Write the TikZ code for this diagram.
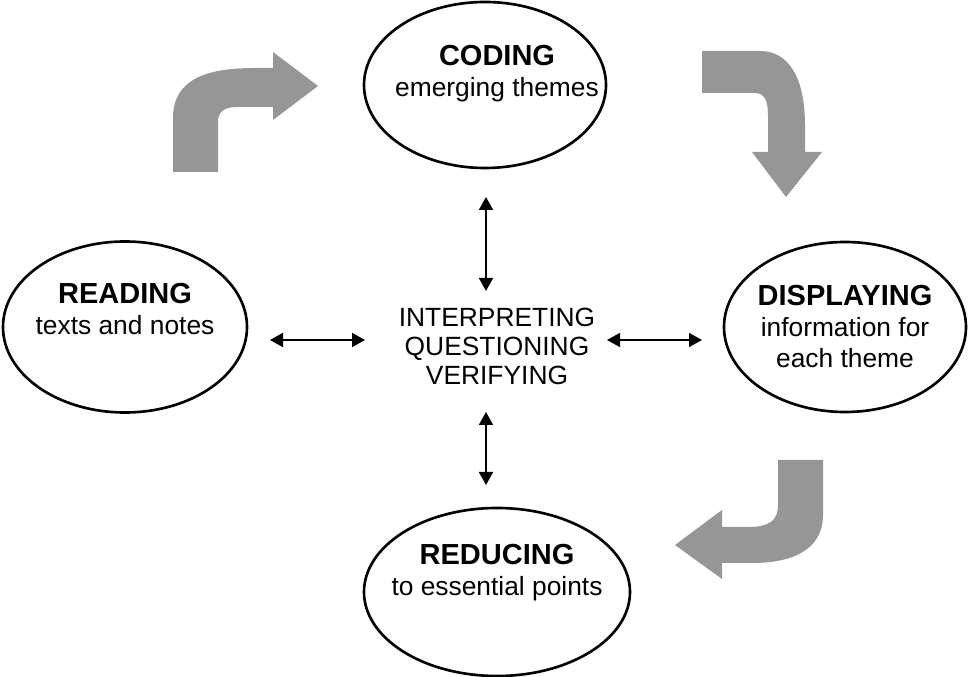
\documentclass[tikz,border=0pt]{standalone}
\usepackage{fontspec}
\setmainfont{Liberation Sans}
\usetikzlibrary{arrows.meta,shapes.geometric}

\definecolor{turngray}{RGB}{150,150,150}
\newcommand{\phasetitle}[1]{{\fontsize{16.5pt}{17.5pt}\selectfont\bfseries #1}}

\tikzset{
  phase/.style={draw, ellipse, line width=1.5pt, inner sep=0pt},
  phasetext/.style={anchor=north, align=center, inner sep=0pt,
    font=\fontsize{15pt}{17.5pt}\selectfont},
  link/.style={{Triangle[length=2.6mm,width=2.8mm]}-{Triangle[length=2.6mm,width=2.8mm]},
    line width=0.35mm},
  turn/.style={fill=turngray, draw=none}
}

\begin{document}
\begin{tikzpicture}[x=0.2mm, y=-0.2mm]
      \useasboundingbox (0,0) rectangle (968,677);

      % Ellipses
      \node[phase, minimum width=48.4mm, minimum height=33.2mm] (coding) at (485,85) {};
      \node[phase, minimum width=48.8mm, minimum height=34.2mm] (reading) at (125,327) {};
      \node[phase, minimum width=48.4mm, minimum height=34mm] (displaying) at (845,327) {};
      \node[phase, minimum width=53.2mm, minimum height=33.6mm] (reducing) at (497,592) {};

      % Texts
      \node[phasetext] (codingtxt) at (497,45) {\phasetitle{CODING}\\ emerging themes};
      \node[phasetext] (readingtxt) at (125,283) {\phasetitle{READING}\\ texts and notes};
      \node[phasetext] (displayingtxt) at (845,285)
      {\phasetitle{DISPLAYING}\\ information for\\ each theme};
      \node[phasetext] (reducingtxt) at (497,544) {\phasetitle{REDUCING}\\ to essential points};
      \node[phasetext, font=\fontsize{15pt}{16.5pt}\selectfont] (mid) at (497,308)
      {INTERPRETING\\ QUESTIONING\\ VERIFYING};

      % Arrow ends
      \coordinate (mid-n) at (486,291);
      \coordinate (coding-s) at (486,197);
      \coordinate (mid-s) at (486,412);
      \coordinate (reducing-n) at (486,485);
      \coordinate (mid-w) at (365,340);
      \coordinate (reading-e) at (270,340);
      \coordinate (mid-e) at (607,340);
      \coordinate (displaying-w) at (702,340);

      % Arrows (inner)
      \draw[link] (coding-s) -- (mid-n);
      \draw[link] (mid-s) -- (reducing-n);
      \draw[link] (reading-e) -- (mid-w);
      \draw[link] (mid-e) -- (displaying-w);

      % Arrows (outer)
      \fill[turn] (173,172) -- (173,118) .. controls (173,80) and (205,68) .. (255,68)
      -- (273,68) -- (273,52) -- (318,86) -- (273,120) -- (273,107) -- (237,107)
      .. controls (224,107) and (218,112) .. (218,122) -- (218,172) -- cycle;

      \fill[turn] (702,51) -- (760,51) .. controls (790,51) and (805,80) .. (805,125)
      -- (805,152) -- (822,152) -- (786,197) -- (752,152) -- (768,152) -- (768,115)
      .. controls (768,100) and (764,93) .. (755,93) -- (702,93) -- cycle;

      \fill[turn] (778,460) -- (823,460) -- (823,515) .. controls (823,545) and (800,563) .. (752,563)
      -- (722,563) -- (722,579) -- (675,545) -- (722,510) -- (722,527) -- (748,527)
      .. controls (770,527) and (778,520) .. (778,505) -- cycle;
    \end{tikzpicture}
\end{document}
